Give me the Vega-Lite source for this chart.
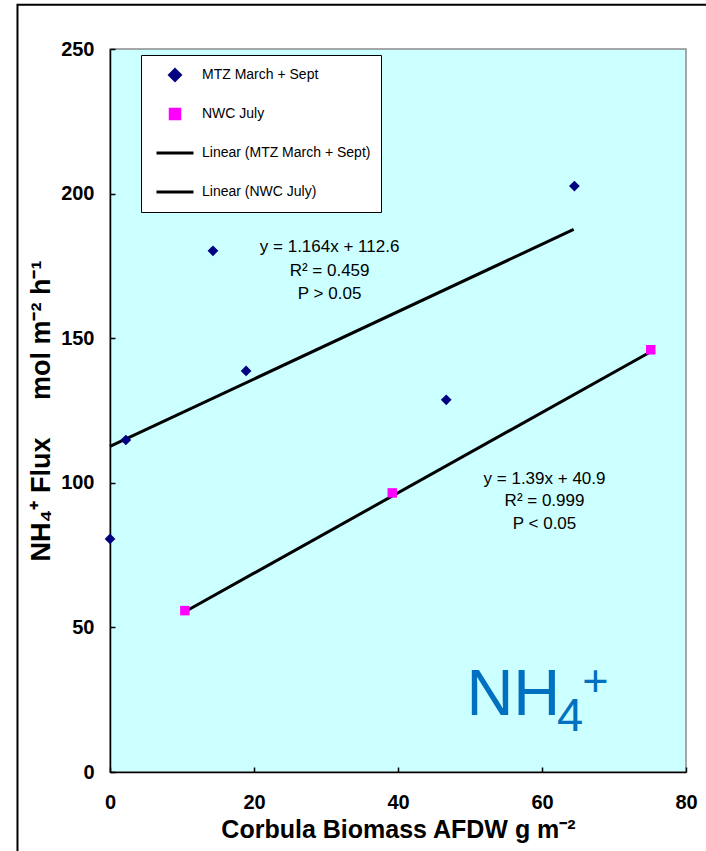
{
  "$schema": "https://vega.github.io/schema/vega-lite/v6.json",
  "width": 576,
  "height": 723,
  "autosize": {"type": "none"},
  "padding": {"left": 110, "top": 49, "right": 20, "bottom": 79},
  "background": "white",
  "config": {
    "view": {"fill": "#CCFFFF", "stroke": "#8c8c8c", "strokeWidth": 1.5},
    "font": "Liberation Sans",
    "legend": {
      "orient": "none",
      "legendX": 31,
      "legendY": 6,
      "fillColor": "white",
      "strokeColor": "black",
      "padding": 10,
      "clipHeight": 20,
      "symbolOffset": 4,
      "symbolSize": 1369,
      "symbolStrokeWidth": 3,
      "labelFont": "Liberation Sans",
      "labelFontSize": 14,
      "labelColor": "black",
      "labelOffset": 7,
      "labelLimit": 300,
      "rowPadding": 19
    },
    "axis": {
      "grid": false,
      "domainColor": "black",
      "domainWidth": 1.5,
      "tickColor": "black",
      "tickWidth": 1.5,
      "tickSize": -5,
      "labelFlush": false,
      "labelFont": "Liberation Sans",
      "labelFontSize": 20,
      "labelFontWeight": "bold",
      "labelColor": "black",
      "titleFont": "Liberation Sans",
      "titleFontWeight": "bold",
      "titleColor": "black"
    }
  },
  "datasets": {
    "points": [
      {"biomass": 0, "flux": 80.6, "series": "MTZ March + Sept"},
      {"biomass": 2.2, "flux": 114.8, "series": "MTZ March + Sept"},
      {"biomass": 14.3, "flux": 180.2, "series": "MTZ March + Sept"},
      {"biomass": 18.9, "flux": 138.7, "series": "MTZ March + Sept"},
      {"biomass": 46.7, "flux": 128.7, "series": "MTZ March + Sept"},
      {"biomass": 64.5, "flux": 202.6, "series": "MTZ March + Sept"},
      {"biomass": 10.4, "flux": 55.8, "series": "NWC July"},
      {"biomass": 39.2, "flux": 96.5, "series": "NWC July"},
      {"biomass": 75.1, "flux": 146.0, "series": "NWC July"}
    ],
    "lines": [
      {"biomass": 0, "flux": 112.6, "series": "Linear (MTZ March + Sept)"},
      {"biomass": 64.4, "flux": 187.6, "series": "Linear (MTZ March + Sept)"},
      {"biomass": 10.4, "flux": 55.4, "series": "Linear (NWC July)"},
      {"biomass": 75.1, "flux": 145.3, "series": "Linear (NWC July)"}
    ],
    "eq": [
      {"biomass": 30.5, "flux": 181.7, "text": "y = 1.164x + 112.6"},
      {"biomass": 30.5, "flux": 173.4, "text": "R² = 0.459"},
      {"biomass": 30.5, "flux": 165.4, "text": "P > 0.05"},
      {"biomass": 60.35, "flux": 101.3, "text": "y = 1.39x + 40.9"},
      {"biomass": 60.35, "flux": 93.8, "text": "R² = 0.999"},
      {"biomass": 60.35, "flux": 85.8, "text": "P < 0.05"}
    ],
    "frame": [
      {"x1": -12.85, "x2": 86, "y1": 265.3, "y2": -32}
    ],
    "big": [
      {"biomass": 49.5, "flux": 19.8, "text": "NH"}
    ],
    "sub": [
      {"biomass": 62.1, "flux": 14.3, "text": "4"}
    ],
    "sup": [
      {"biomass": 67.4, "flux": 31.2, "text": "+"}
    ]
  },
  "encoding": {
    "x": {
      "field": "biomass",
      "type": "quantitative",
      "scale": {"domain": [0, 80], "nice": false, "zero": false},
      "axis": {"values": [0, 20, 40, 60, 80], "labelPadding": 25, "title": "Corbula Biomass AFDW g m⁻²", "titleFontSize": 25, "titlePadding": 5}
    },
    "y": {
      "field": "flux",
      "type": "quantitative",
      "scale": {"domain": [0, 250], "nice": false, "zero": false},
      "axis": {"values": [0, 50, 100, 150, 200, 250], "labelPadding": 21, "title": "NH₄⁺ Flux\u00a0\u00a0\u00a0\u00a0\u00a0mol m⁻²\u00a0h⁻¹", "titleFontSize": 27, "titlePadding": 5}
    }
  },
  "layer": [
    {
      "data": {"name": "frame"},
      "mark": {"type": "rect", "fill": "transparent", "stroke": "black", "strokeWidth": 2, "clip": false},
      "encoding": {
        "x": {"field": "x1", "type": "quantitative"},
        "x2": {"field": "x2"},
        "y": {"field": "y1", "type": "quantitative"},
        "y2": {"field": "y2"}
      }
    },
    {
      "data": {"name": "lines"},
      "mark": {"type": "line", "strokeWidth": 3},
      "encoding": {
        "color": {
          "field": "series",
          "type": "nominal",
          "title": null,
          "scale": {
            "domain": ["MTZ March + Sept", "NWC July", "Linear (MTZ March + Sept)", "Linear (NWC July)"],
            "range": ["#000080", "#FF00FF", "black", "black"]
          },
          "legend": {
            "encode": {
              "symbols": {"update": {
                "size": {"signal": "datum.value === 'MTZ March + Sept' ? 115 : datum.value === 'NWC July' ? 90 : 1369"},
                "fill": {"signal": "datum.value === 'MTZ March + Sept' ? '#000080' : datum.value === 'NWC July' ? '#FF00FF' : 'transparent'"},
                "stroke": {"signal": "indexof(datum.value, 'Linear') === 0 ? 'black' : 'transparent'"},
                "strokeWidth": {"value": 3},
                "opacity": {"value": 1}
              }}
            }
          }
        }
      }
    },
    {
      "data": {"name": "points"},
      "mark": {"type": "point", "filled": true, "opacity": 1},
      "encoding": {
        "size": {"condition": {"test": "datum.series === 'NWC July'", "value": 90}, "value": 115},
        "color": {
          "field": "series",
          "type": "nominal",
          "title": null,
          "scale": {
            "domain": ["MTZ March + Sept", "NWC July", "Linear (MTZ March + Sept)", "Linear (NWC July)"],
            "range": ["#000080", "#FF00FF", "black", "black"]
          },
          "legend": {
            "encode": {
              "symbols": {"update": {
                "size": {"signal": "datum.value === 'MTZ March + Sept' ? 115 : datum.value === 'NWC July' ? 90 : 1369"},
                "fill": {"signal": "datum.value === 'MTZ March + Sept' ? '#000080' : datum.value === 'NWC July' ? '#FF00FF' : 'transparent'"},
                "stroke": {"signal": "indexof(datum.value, 'Linear') === 0 ? 'black' : 'transparent'"},
                "strokeWidth": {"value": 3},
                "opacity": {"value": 1}
              }}
            }
          }
        },
        "shape": {
          "field": "series",
          "type": "nominal",
          "title": null,
          "scale": {
            "domain": ["MTZ March + Sept", "NWC July", "Linear (MTZ March + Sept)", "Linear (NWC July)"],
            "range": ["diamond", "square", "stroke", "stroke"]
          },
          "legend": {
            "encode": {
              "symbols": {"update": {
                "size": {"signal": "datum.value === 'MTZ March + Sept' ? 115 : datum.value === 'NWC July' ? 90 : 1369"},
                "fill": {"signal": "datum.value === 'MTZ March + Sept' ? '#000080' : datum.value === 'NWC July' ? '#FF00FF' : 'transparent'"},
                "stroke": {"signal": "indexof(datum.value, 'Linear') === 0 ? 'black' : 'transparent'"},
                "strokeWidth": {"value": 3},
                "opacity": {"value": 1}
              }}
            }
          }
        }
      }
    },
    {
      "data": {"name": "eq"},
      "mark": {"type": "text", "font": "Liberation Sans", "fontSize": 17, "color": "black", "align": "center", "baseline": "middle"},
      "encoding": {"text": {"field": "text"}}
    },
    {
      "data": {"name": "big"},
      "mark": {"type": "text", "font": "Liberation Sans", "fontSize": 65, "color": "#0070C0", "align": "left", "baseline": "alphabetic"},
      "encoding": {"text": {"field": "text"}}
    },
    {
      "data": {"name": "sub"},
      "mark": {"type": "text", "font": "Liberation Sans", "fontSize": 47, "color": "#0070C0", "align": "left", "baseline": "alphabetic"},
      "encoding": {"text": {"field": "text"}}
    },
    {
      "data": {"name": "sup"},
      "mark": {"type": "text", "font": "Liberation Sans", "fontSize": 45, "color": "#0070C0", "align": "center", "baseline": "middle"},
      "encoding": {"text": {"field": "text"}}
    }
  ]
}
